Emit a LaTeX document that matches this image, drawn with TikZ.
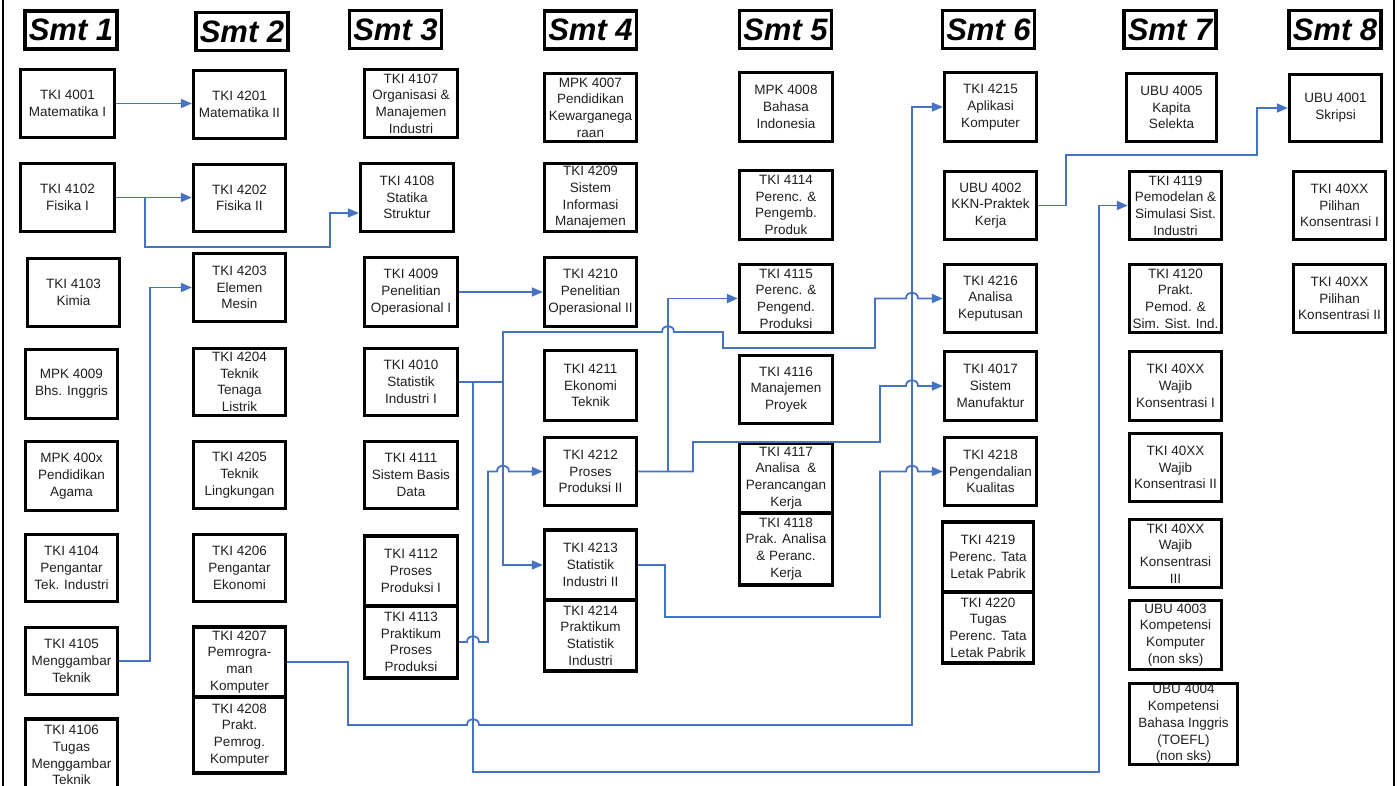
\documentclass[tikz,border=0pt]{standalone}
\usepackage{fontspec}
\setmainfont{Liberation Sans}
\usetikzlibrary{arrows.meta}
\definecolor{wireblue}{RGB}{70,114,196}
\newcommand\crs[6]{\node[course,minimum width=#4pt,minimum height=#5pt] (#1) at (#2,#3) {#6};}
\newcommand\hdr[4]{\node[header] (#1) at (#2,#3) {#4};}
\tikzset{
  course/.style={draw=black, line width=3.3pt, align=center, inner sep=0pt, text=black!88,
    font=\fontsize{13.5}{16.7}\selectfont},
  header/.style={draw=black, line width=3.3pt, inner sep=0pt, minimum width=92pt, minimum height=38pt,
    font=\fontsize{31}{31}\selectfont\bfseries\itshape},
  wire/.style={draw=wireblue, line width=1.8pt},
  arr/.style={wire, -{Triangle[length=11pt,width=9pt]}},
  frame/.style={draw=black, line width=2pt}
}
\begin{document}
\begin{tikzpicture}[x=1pt,y=-1pt]
\useasboundingbox (0,0) rectangle (1398,786);
\coordinate (fl1) at (3,0); \coordinate (fl2) at (3,786);
\coordinate (fr1) at (1394,0); \coordinate (fr2) at (1394,786);
\draw[frame] (fl1) -- (fl2);
\draw[frame] (fr1) -- (fr2);

% headers
\hdr{h1}{71}{30}{Smt 1}
\hdr{h2}{242}{31.5}{Smt 2}
\hdr{h3}{395.5}{29.5}{Smt 3}
\hdr{h4}{590.5}{30}{Smt 4}
\hdr{h5}{785.5}{29.5}{Smt 5}
\hdr{h6}{988.5}{29.5}{Smt 6}
\hdr{h7}{1170}{29.5}{Smt 7}
\hdr{h8}{1335}{29.5}{Smt 8}

% column 1
\crs{c4001}{67.5}{103.5}{94}{68}{TKI 4001\\Matematika I}
\crs{c4102}{67.5}{197.5}{94}{68}{TKI 4102\\Fisika I}
\crs{c4103}{73.5}{292.5}{92}{68}{TKI 4103\\Kimia}
\crs{m4009}{71.5}{384}{92}{69}{MPK 4009\\Bhs. Inggris}
\crs{m400x}{71.5}{476}{92}{69}{MPK 400x\\Pendidikan\\Agama}
\crs{c4104}{71.5}{568}{92}{67}{TKI 4104\\Pengantar\\Tek. Industri}
\crs{c4105}{71.5}{661}{92}{67}{TKI 4105\\Menggambar\\Teknik}
\crs{c4106}{71.5}{755}{92}{72}{TKI 4106\\Tugas\\Menggambar\\Teknik}

% column 2
\crs{c4201}{239.5}{104.5}{92}{68}{TKI 4201\\Matematika II}
\crs{c4202}{239.5}{198}{92}{67}{TKI 4202\\Fisika II}
\crs{c4203}{239.5}{287.5}{92}{68}{TKI 4203\\Elemen\\Mesin}
\crs{c4204}{239.5}{382}{92}{67}{TKI 4204\\Teknik\\Tenaga\\Listrik}
\crs{c4205}{239.5}{475}{92}{67}{TKI 4205\\Teknik\\Lingkungan}
\crs{c4206}{239.5}{568}{92}{67}{TKI 4206\\Pengantar\\Ekonomi}
\crs{c4207}{239.5}{662}{92}{70}{TKI 4207\\Pemrogra-\\man\\Komputer}
\crs{c4208}{239.5}{735}{92}{76}{TKI 4208\\Prakt.\\Pemrog.\\Komputer}

% column 3
\crs{c4107}{411}{103.5}{93}{68}{TKI 4107\\Organisasi \&\\Manajemen\\Industri}
\crs{c4108}{407}{197.5}{93}{68}{TKI 4108\\Statika\\Struktur}
\crs{c4009}{411}{292}{93}{69}{TKI 4009\\Penelitian\\Operasional I}
\crs{c4010}{411}{382}{93}{67}{TKI 4010\\Statistik\\Industri I}
\crs{c4111}{411}{475}{93}{67}{TKI 4111\\Sistem Basis\\Data}
\crs{c4112}{411}{571}{93}{70}{TKI 4112\\Proses\\Produksi I}
\crs{c4113}{411}{642}{93}{72}{TKI 4113\\Praktikum\\Proses\\Produksi}

% column 4
\crs{m4007}{590.5}{107.5}{92}{68}{MPK 4007\\Pendidikan\\Kewarganega\\raan}
\crs{c4209}{590.5}{197.5}{92}{68}{TKI 4209\\Sistem\\Informasi\\Manajemen}
\crs{c4210}{590.5}{292}{92}{69}{TKI 4210\\Penelitian\\Operasional II}
\crs{c4211}{590.5}{385.5}{92}{70}{TKI 4211\\Ekonomi\\Teknik}
\crs{c4212}{590.5}{471.5}{92}{68}{TKI 4212\\Proses\\Produksi II}
\crs{c4213}{590.5}{565}{92}{70}{TKI 4213\\Statistik\\Industri II}
\crs{c4214}{590.5}{635.5}{92}{71}{TKI 4214\\Praktikum\\Statistik\\Industri}

% column 5
\crs{m4008}{786}{107}{93}{69}{MPK 4008\\Bahasa\\Indonesia}
\crs{c4114}{786}{205}{93}{69}{TKI 4114\\Perenc. \&\\Pengemb.\\Produk}
\crs{c4115}{786}{298.5}{93}{68}{TKI 4115\\Perenc. \&\\Pengend.\\Produksi}
\crs{c4116}{786}{389.5}{93}{68}{TKI 4116\\Manajemen\\Proyek}
\crs{c4117}{786}{478}{93}{70}{TKI 4117\\Analisa~~\&\\Perancangan\\Kerja}
\crs{c4118}{786}{549}{93}{72}{TKI 4118\\Prak. Analisa\\\& Peranc.\\Kerja}

% column 6
\crs{c4215}{990.5}{107}{92}{69}{TKI 4215\\Aplikasi\\Komputer}
\crs{u4002}{990.5}{205.5}{92}{68}{UBU 4002\\KKN-Praktek\\Kerja}
\crs{c4216}{990.5}{298.5}{92}{68}{TKI 4216\\Analisa\\Keputusan}
\crs{c4017}{990.5}{386}{92}{69}{TKI 4017\\Sistem\\Manufaktur}
\crs{c4218}{990.5}{471.5}{92}{68}{TKI 4218\\Pengendalian\\Kualitas}
\crs{c4219}{988}{557}{91}{70}{TKI 4219\\Perenc. Tata\\Letak Pabrik}
\crs{c4220}{988}{627.5}{91}{71}{TKI 4220\\Tugas\\Perenc. Tata\\Letak Pabrik}

% column 7
\crs{u4005}{1171.5}{107.5}{90}{68}{UBU 4005\\Kapita\\Selekta}
\crs{c4119}{1175.5}{205.5}{92}{68}{TKI 4119\\Pemodelan \&\\Simulasi Sist.\\Industri}
\crs{c4120}{1175.5}{298.5}{92}{68}{TKI 4120\\Prakt.\\Pemod. \&\\Sim. Sist. Ind.}
\crs{w1}{1175.5}{386}{92}{69}{TKI 40XX\\Wajib\\Konsentrasi I}
\crs{w2}{1175.5}{467.5}{92}{68}{TKI 40XX\\Wajib\\Konsentrasi II}
\crs{w3}{1175.5}{553.5}{92}{68}{TKI 40XX\\Wajib\\Konsentrasi\\III}
\crs{u4003}{1175.5}{635}{92}{69}{UBU 4003\\Kompetensi\\Komputer\\(non sks)}
\crs{u4004}{1183.5}{724}{108}{81}{UBU 4004\\Kompetensi\\Bahasa Inggris\\(TOEFL)\\(non sks)}

% column 8
\crs{u4001}{1335.5}{108}{92}{67}{UBU 4001\\Skripsi}
\crs{p1}{1339.5}{205.5}{92}{68}{TKI 40XX\\Pilihan\\Konsentrasi I}
\crs{p2}{1339.5}{298.5}{92}{68}{TKI 40XX\\Pilihan\\Konsentrasi II}

% junctions
\coordinate (j1) at (145,197.5);
\coordinate (jA) at (503,382);
\coordinate (jB) at (473,382);
\coordinate (jC) at (668,471.5);

% connectors
\draw[arr] (c4001.east) -- (c4001.east -| c4201.west);
\draw[arr] (c4102.east) -- (c4102.east -| c4202.west);
\draw[arr] (j1) -- (145,247) -- (330,247) -- (330,213) -- (c4108.west |- 0,213);
\draw[arr] (c4105.east) -- (150,661) -- (150,287.5) -- (c4203.west);
\draw[arr] (c4009.east) -- (c4009.east -| c4210.west);

\draw[wire] (c4010.east) -- (jA);
\draw[arr] (jA) |- (c4213.west);
\draw[arr] (jA) -- (503,332) -- (662,332) .. controls (662,324) and (674,324) .. (674,332)
  -- (723,332) -- (723,348) -- (875,348) -- (875,298.5) -- (906,298.5)
  .. controls (906,290.5) and (918,290.5) .. (918,298.5) -- (c4216.west);
\draw[arr] (jB) -- (473,772) -- (1099,772) -- (1099,205.5) -- (c4119.west);

\draw[arr] (c4113.east) -- (467,642) .. controls (467,634) and (479,634) .. (479,642)
  -- (488,642) -- (488,471.5) -- (497,471.5) .. controls (497,463.5) and (509,463.5) .. (509,471.5)
  -- (c4212.west);

\draw[arr] (c4212.east) -- (jC) -- (693,471.5) -- (693,442) -- (880,442) -- (880,386) -- (906,386)
  .. controls (906,378) and (918,378) .. (918,386) -- (c4017.west);
\draw[arr] (jC) |- (c4115.west);

\draw[arr] (c4213.east) -- (665,565) -- (665,617) -- (880,617) -- (880,471.5) -- (906,471.5)
  .. controls (906,463.5) and (918,463.5) .. (918,471.5) -- (c4218.west);

\draw[arr] (c4207.east) -- (348,662) -- (348,725) -- (467,725) .. controls (467,717) and (479,717) .. (479,725)
  -- (912,725) -- (912,107) -- (c4215.west);

\draw[arr] (u4002.east) -- (1066,205.5) -- (1066,155) -- (1257,155) -- (1257,108) -- (u4001.west);
\end{tikzpicture}
\end{document}
